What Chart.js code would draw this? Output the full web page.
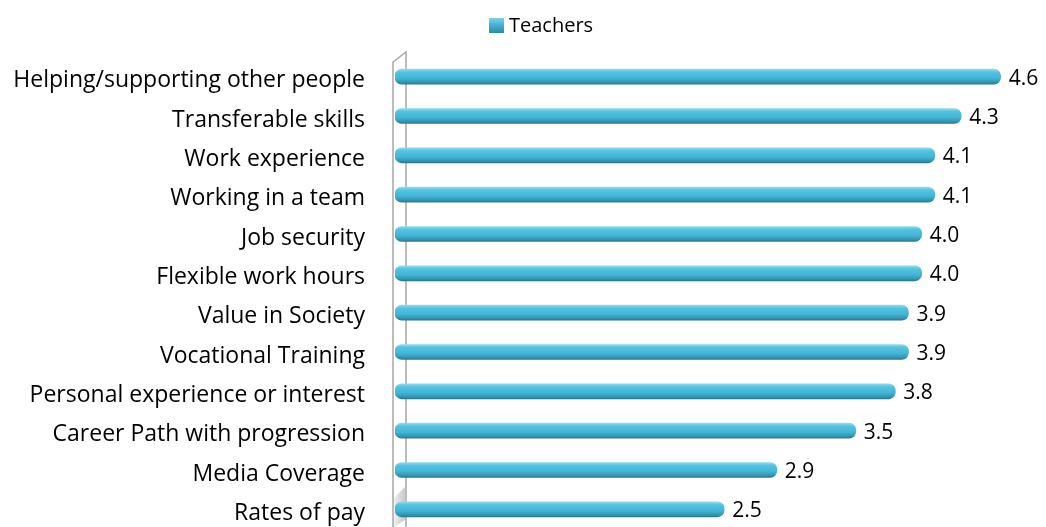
<!DOCTYPE html>
<html>
<head>
<meta charset="utf-8">
<script src="https://cdn.jsdelivr.net/npm/chart.js@4"></script>
<style>
  html, body { margin: 0; padding: 0; background: #fff; overflow: hidden; }
  #wrap { position: relative; width: 1046px; height: 532px; }
</style>
</head>
<body>
<div id="wrap"><canvas id="chart"></canvas></div>
<script>
const categories = [
  'Helping/supporting other people',
  'Transferable skills',
  'Work experience',
  'Working in a team',
  'Job security',
  'Flexible work hours',
  'Value in Society',
  'Vocational Training',
  'Personal experience or interest',
  'Career Path with progression',
  'Media Coverage',
  'Rates of pay',
];
const teachers = [4.6, 4.3, 4.1, 4.1, 4.0, 4.0, 3.9, 3.9, 3.8, 3.5, 2.9, 2.5];
const seriesName = 'Teachers';

const FONT = 'Open Sans';
const BAR_COLOR = '#41b6d6';

function barGradient(context) {
  const chart = context.chart;
  if (!chart.chartArea || !chart.scales.y) return BAR_COLOR;
  const y = chart.scales.y.getPixelForValue(context.dataIndex);
  const g = chart.ctx.createLinearGradient(0, y - 7.5, 0, y + 7.5);
  g.addColorStop(0, '#8fdaee');
  g.addColorStop(0.2, '#55c3e0');
  g.addColorStop(0.6, '#42b5d5');
  g.addColorStop(0.85, '#3398b6');
  g.addColorStop(1, '#2a7890');
  return g;
}

// 3D-style side wall left of the bars
const wallPlugin = {
  id: 'wall',
  beforeDatasetsDraw(chart) {
    const { ctx, chartArea } = chart;
    const x1 = chartArea.left - 2;
    const x2 = x1 + 13;
    ctx.save();
    const g = ctx.createLinearGradient(x1, 0, x2, 0);
    g.addColorStop(0, '#f4f4f4');
    g.addColorStop(1, '#c4c4c4');
    ctx.fillStyle = g;
    ctx.beginPath();
    ctx.moveTo(x1 + 1, 498);
    ctx.lineTo(x2 - 1, 487);
    ctx.lineTo(x2 - 1, 520);
    ctx.lineTo(x1 + 1, 527);
    ctx.closePath();
    ctx.fill();
    ctx.strokeStyle = '#a6a6a6';
    ctx.lineWidth = 1.5;
    ctx.beginPath();
    ctx.moveTo(x1, 532);
    ctx.lineTo(x1, 62);
    ctx.lineTo(x2, 52);
    ctx.lineTo(x2, 532);
    ctx.stroke();
    ctx.restore();
  },
};

const valueLabels = {
  id: 'valueLabels',
  afterDatasetsDraw(chart) {
    const { ctx } = chart;
    const meta = chart.getDatasetMeta(0);
    ctx.save();
    ctx.font = `21px "${FONT}"`;
    ctx.fillStyle = '#000';
    ctx.textAlign = 'left';
    ctx.textBaseline = 'middle';
    meta.data.forEach((bar, i) => {
      ctx.fillText(teachers[i].toFixed(1), bar.x + 8, bar.y + 2);
    });
    ctx.restore();
  },
};

// legend drawn by hand so it does not take layout space
const legendPlugin = {
  id: 'topLegend',
  afterDraw(chart) {
    const { ctx } = chart;
    ctx.save();
    const bx = 489, by = 18, s = 15;
    const g = ctx.createLinearGradient(0, by, 0, by + s);
    g.addColorStop(0, '#7fd2ea');
    g.addColorStop(0.5, '#3fb0d0');
    g.addColorStop(1, '#2a8aa6');
    ctx.fillStyle = g;
    ctx.fillRect(bx, by, s, s);
    ctx.font = `20px "${FONT}"`;
    ctx.fillStyle = '#000';
    ctx.textBaseline = 'middle';
    ctx.fillText(seriesName, bx + s + 5, by + s / 2 + 1);
    ctx.restore();
  },
};

new Chart(document.getElementById('chart'), {
  type: 'bar',
  data: {
    labels: categories,
    datasets: [{
      label: seriesName,
      data: teachers,
      backgroundColor: barGradient,
      borderWidth: 0,
      borderRadius: 7,
      borderSkipped: false,
      barThickness: 15,
    }],
  },
  options: {
    indexAxis: 'y',
    responsive: true,
    maintainAspectRatio: false,
    animation: false,
    layout: { padding: { left: 0, right: 19, top: 57, bottom: 3 } },
    scales: {
      x: {
        display: false,
        min: 0,
        max: 4.8,
      },
      y: {
        grid: { display: false, drawTicks: false },
        border: { display: false },
        ticks: {
          color: '#000',
          font: { family: FONT, size: 23 },
          padding: 30,
          labelOffset: 4,
        },
        afterFit(scale) {
          scale.width = 395;
          scale.paddingTop = 0;
          scale.paddingBottom = 0;
        },
      },
    },
    plugins: {
      legend: { display: false },
      tooltip: { enabled: false },
    },
  },
  plugins: [wallPlugin, valueLabels, legendPlugin],
});
</script>
</body>
</html>
